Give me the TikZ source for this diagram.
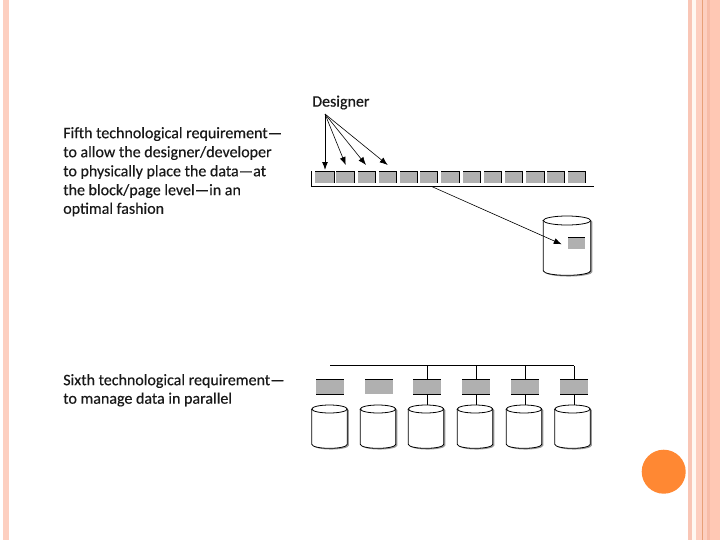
\documentclass[tikz,border=0pt]{standalone}
\usepackage{fontspec}
\setmainfont{Carlito}
\newfontfamily\capfont{Carlito}[FakeBold=0.35]
\usetikzlibrary{arrows.meta}
\definecolor{stripeA}{HTML}{F9C6B6}
\definecolor{stripeB}{HTML}{FDCFC0}
\definecolor{stripeC}{HTML}{FFF8F2}
\definecolor{stripeD}{HTML}{FFC8B4}
\definecolor{stripeE}{HTML}{F7BCA8}
\definecolor{stripeLine}{HTML}{E8A078}
\definecolor{dotfill}{HTML}{FF8833}
\definecolor{blockgrey}{HTML}{B0B0B0}
\tikzset{
  x=0.75pt,y=-0.75pt,
  caption/.style={anchor=west,inner sep=0pt,font=\capfont\fontsize{12pt}{12pt}\selectfont,text=black!90},
  blockbox/.style={fill=blockgrey,inner sep=0pt,outer sep=0pt,minimum height=9pt,anchor=north west},
  lowbox/.style={fill=blockgrey,inner sep=0pt,outer sep=0pt,minimum height=11.25pt,minimum width=21pt,anchor=north west},
  edgeline/.style={line width=0.7pt,black},
  barrelframe/.style={inner sep=0pt,outer sep=0pt,anchor=north},
  barrelline/.style={draw=black,line width=0.6pt,fill=white},
  barrelshade/.style={fill=black!40,draw=none},
  thinarrow/.style={line width=0.45pt,black,-{Latex[length=6pt,width=4.5pt]}},
  thickarrow/.style={line width=0.75pt,black,-{Latex[length=6pt,width=4.5pt]}},
}
% #2 node name, #3 half width, #4 ellipse vertical radius (picture units)
\newcommand{\barreloutline}[4][]{%
  \path[#1] ([yshift=-#4*0.75pt]#2.north west) -- ([yshift=#4*0.75pt]#2.south west)
     arc[start angle=180,end angle=0,x radius=#3,y radius=#4]
     -- ([yshift=-#4*0.75pt]#2.north east)
     arc[start angle=0,end angle=-180,x radius=#3,y radius=#4] -- cycle;
}
\newcommand{\barrelfull}[3]{%
  \begin{scope}[transform canvas={xshift=1.2pt,yshift=-0.9pt}]
    \barreloutline[barrelshade]{#1}{#2}{#3}
  \end{scope}
  \barreloutline[barrelline]{#1}{#2}{#3}
  \draw[line width=0.6pt,black] ([yshift=-#3*0.75pt]#1.north west)
     arc[start angle=180,end angle=0,x radius=#2,y radius=#3];
}
\begin{document}
\begin{tikzpicture}
\useasboundingbox (0,0) rectangle (720,540);
\fill[white] (0,0) rectangle (720,540);
% side stripes
\fill[stripeB] (3,0) rectangle (9,540);
\fill[stripeA] (688,0) rectangle (692,540);
\fill[stripeC] (692,0) rectangle (696,540);
\fill[stripeB] (696,0) rectangle (707,540);
\fill[stripeE] (707,0) rectangle (710,540);
\fill[stripeD] (710,0) rectangle (720,540);
\fill[stripeLine] (702,0) rectangle (703,540);
\fill[dotfill] (663.7,471.7) circle (22);
% captions
\node[caption] (c1) at (63,134) {Fifth technological requirement—};
\node[caption] (c2) at (63,153) {to allow the designer/developer};
\node[caption] (c3) at (63,172) {to physically place the data—at};
\node[caption] (c4) at (63,191) {the block/page level—in an};
\node[caption] (c5) at (63,209.5) {optimal fashion};
\node[caption] (c6) at (63,381) {Sixth technological requirement—};
\node[caption] (c7) at (63,399.5) {to manage data in parallel};
\node[caption] (des) at (312,102.5) {Designer};
\coordinate (src) at (325,114);
% block row
\foreach \n/\xa/\xb in {1/315/334,2/336/354.7,3/358/375.3,4/379/396,5/400/417.3,6/420.3/437.7,7/441/459.3,8/463.3/480.7,9/484/501.7,10/505.3/522.7,11/526/544,12/547.3/564.7,13/568/585.7}{
  \pgfmathsetmacro{\boxw}{(\xb-\xa)*0.75}
  \node[blockbox,minimum width=\boxw pt] (t\n) at (\xa,171) {};
  \draw[edgeline,line width=0.55pt] (t\n.north west) -- (t\n.north east) -- (t\n.south east);
}
\coordinate (railL) at (311.7,171);
\coordinate (railC) at (311.7,186.5);
\coordinate (railR) at (594,186.5);
\draw[edgeline] (railL) -- (railC) -- (railR);
% designer arrows
\coordinate (a1) at (325,170);
\coordinate (a2) at (345.7,165);
\coordinate (a3) at (366,165);
\coordinate (a4) at (387.7,165);
\draw[thickarrow] (src) -- (a1);
\draw[thinarrow] (src) -- (a2);
\draw[thinarrow] (src) -- (a3);
\draw[thinarrow] (src) -- (a4);
% single disk
\node[barrelframe,minimum width=35.5pt,minimum height=44.5pt] (d0) at (567,216) {};
\barrelfull{d0}{23.7}{4.5}
\node[blockbox,minimum height=8.7pt,minimum width=12.75pt] (p0) at (568,237.3) {};
\draw[edgeline,line width=0.55pt] (p0.north west) -- (p0.north east);
\coordinate (railOut) at (431.7,186.5);
\coordinate (p0in) at (561.7,244.3);
\draw[thinarrow] (railOut) -- (p0in);
% parallel row
\coordinate (bus0) at (330,365.5);
\coordinate (bus1) at (573.5,365.5);
\draw[edgeline] (bus0) -- (bus1);
\foreach \n/\xa/\cx in {1/316/329.5,2/365/378,3/413/426,4/462/475,5/511/524,6/560/572.5}{
  \node[lowbox] (b\n) at (\xa,379) {};
  \node[barrelframe,minimum width=26.5pt,minimum height=32.5pt] (d\n) at (\cx,405) {};
  \barrelfull{d\n}{17.67}{4}
}
\foreach \n in {1,3,4,5,6}{
  \draw[edgeline,line width=0.6pt] (b\n.north west) -- (b\n.north east);
  \draw[edgeline,line width=0.6pt] (b\n.south west) -- (b\n.south east);
}
\draw[edgeline,line width=0.6pt] (b2.north west) -- (b2.north east);
\foreach \n in {3,4,5,6}{
  \draw[edgeline] (b\n.north) -- (b\n.north |- bus0);
  \draw[edgeline] (b\n.south) -- (b\n.south |- d\n.north);
}
\end{tikzpicture}
\end{document}
